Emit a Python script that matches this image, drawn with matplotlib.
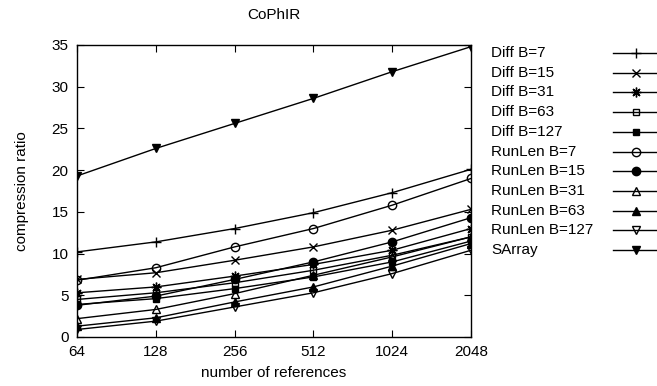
import matplotlib
matplotlib.use("Agg")
import matplotlib.pyplot as plt
from matplotlib.lines import Line2D
from matplotlib.ticker import FixedLocator, FixedFormatter, NullLocator

plt.rcParams['font.family'] = ['Liberation Sans', 'DejaVu Sans']

refs = [64, 128, 256, 512, 1024, 2048]
ref_labels = ["64", "128", "256", "512", "1024", "2048"]

diff_b7 = [10.2, 11.4, 13.0, 14.9, 17.3, 20.1]
diff_b15 = [6.9, 7.7, 9.2, 10.8, 12.8, 15.3]
diff_b31 = [5.3, 6.0, 7.3, 8.7, 10.4, 13.0]
diff_b63 = [4.5, 5.3, 6.5, 8.0, 9.8, 12.0]
diff_b127 = [3.9, 4.6, 5.8, 7.2, 9.0, 11.5]
runlen_b7 = [6.8, 8.3, 10.8, 13.0, 15.8, 19.0]
runlen_b15 = [3.8, 4.9, 6.9, 9.0, 11.4, 14.3]
runlen_b31 = [2.2, 3.3, 5.2, 7.4, 9.6, 12.0]
runlen_b63 = [1.3, 2.3, 4.2, 6.0, 8.5, 11.2]
runlen_b127 = [0.9, 1.9, 3.6, 5.3, 7.6, 10.4]
sarray = [19.3, 22.6, 25.6, 28.6, 31.8, 34.8]

series = [
    ("Diff B=7", diff_b7, dict(marker="+", mfc="none", ms=7)),
    ("Diff B=15", diff_b15, dict(marker="x", mfc="none", ms=6)),
    ("Diff B=31", diff_b31, dict(marker=(8, 2, 0), mfc="none", ms=7)),
    ("Diff B=63", diff_b63, dict(marker="s", mfc="none", ms=5)),
    ("Diff B=127", diff_b127, dict(marker="s", mfc="black", ms=5)),
    ("RunLen B=7", runlen_b7, dict(marker="o", mfc="none", ms=6)),
    ("RunLen B=15", runlen_b15, dict(marker="o", mfc="black", ms=6)),
    ("RunLen B=31", runlen_b31, dict(marker="^", mfc="none", ms=6)),
    ("RunLen B=63", runlen_b63, dict(marker="^", mfc="black", ms=6)),
    ("RunLen B=127", runlen_b127, dict(marker="v", mfc="none", ms=6)),
    ("SArray", sarray, dict(marker="v", mfc="black", ms=6)),
]

W, H = 657, 386
fig = plt.figure(figsize=(W / 100, H / 100), dpi=100)
ax = fig.add_axes([77 / W, 1 - 337 / H, (471 - 77) / W, (337 - 45) / H])

for name, vals, st in series:
    ax.plot(refs, vals, color="black", lw=1.0, mec="black", mew=1.0, **st)

ax.set_xscale("log", base=2)
ax.set_xlim(64, 2048)
ax.set_ylim(0, 35)
ax.xaxis.set_major_locator(FixedLocator(refs))
ax.xaxis.set_major_formatter(FixedFormatter(ref_labels))
ax.xaxis.set_minor_locator(NullLocator())
ax.set_yticks(range(0, 36, 5))

fs = 11
ax.tick_params(direction="in", length=5, width=0.8, labelsize=fs,
               top=True, right=True, pad=6)
for sp in ax.spines.values():
    sp.set_linewidth(1.0)

ax.set_title("CoPhIR", fontsize=fs, pad=19)
ax.set_xlabel("number of references", fontsize=fs, labelpad=5)
ax.set_ylabel("compression ratio", fontsize=fs, labelpad=16)

# key on the right: label text followed by a line sample
y0, dy = 53, 19.7
for i, (name, vals, st) in enumerate(series):
    yp = y0 + i * dy
    fy = 1 - yp / H
    fig.text(491 / W, fy, name, fontsize=fs, ha="left", va="center")
    fig.add_artist(Line2D([613 / W, 657 / W], [fy, fy], color="black", lw=1.0,
                          transform=fig.transFigure))
    fig.add_artist(Line2D([636 / W], [fy], color="black", lw=0, mec="black",
                          mew=1.0, transform=fig.transFigure, **st))

fig.savefig("out.png", dpi=100)
